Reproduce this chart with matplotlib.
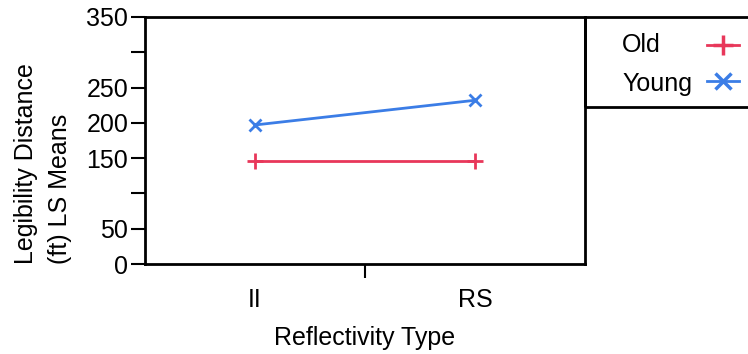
import matplotlib.pyplot as plt
from matplotlib.lines import Line2D
from matplotlib.patches import Rectangle

plt.rcParams['font.family'] = ['Liberation Sans', 'DejaVu Sans']

categories = ['II', 'RS']
old_means = [146, 146]
young_means = [197, 232]

red = '#E8375A'
blue = '#3B7DE6'

W, H = 748, 354
fs = 18
fig = plt.figure(figsize=(W / 100, H / 100), dpi=100)
ax = fig.add_axes([145 / W, 1 - 264 / H, 440 / W, 247 / H])

x = list(range(len(categories)))
ax.plot(x, old_means, color=red, lw=2, marker='+', ms=11, mew=2)
ax.plot(x, young_means, color=blue, lw=2, marker='x', ms=9, mew=2)

ax.set_xlim(-0.5, 1.5)
ax.set_ylim(0, 350)
ax.set_yticks([0, 50, 100, 150, 200, 250, 300, 350])
ax.set_yticklabels(['0', '50', '', '150', '200', '250', '', '350'])
ax.set_xticks([0.5])
ax.set_xticklabels([''])
ax.tick_params(axis='y', length=10, width=1.5, labelsize=fs, pad=2)
ax.tick_params(axis='x', length=10, width=1.5)
for s in ax.spines.values():
    s.set_linewidth(2)

for xi, lab in zip(x, categories):
    ax.text(xi, -0.145, lab, transform=ax.get_xaxis_transform(),
            ha='center', va='center', fontsize=fs)

ax.set_xlabel('Reflectivity Type', fontsize=fs, labelpad=31)
fig.text(43 / W, 1 - 264 / H, 'Legibility Distance\n(ft) LS Means',
         rotation=90, ha='center', va='bottom', multialignment='left',
         fontsize=fs, linespacing=1.5)

# legend box sticking out past the right edge
fig.add_artist(Rectangle((585 / W, 1 - 107 / H), 200 / W, 90 / H,
                         transform=fig.transFigure, fill=False,
                         lw=2, ec='black', clip_on=False))
fig.text(622 / W, 1 - 45 / H, 'Old', fontsize=fs, va='center')
fig.text(622 / W, 1 - 84 / H, 'Young', fontsize=fs, va='center')
fig.add_artist(Line2D([707 / W, 739 / W], [1 - 45 / H, 1 - 45 / H],
                      transform=fig.transFigure, color=red, lw=2))
fig.add_artist(Line2D([723 / W], [1 - 45 / H], transform=fig.transFigure,
                      color=red, marker='+', ms=15, mew=2.5, ls='none'))
fig.add_artist(Line2D([707 / W, 739 / W], [1 - 81 / H, 1 - 81 / H],
                      transform=fig.transFigure, color=blue, lw=2))
fig.add_artist(Line2D([723 / W], [1 - 81 / H], transform=fig.transFigure,
                      color=blue, marker='x', ms=11, mew=2.5, ls='none'))

fig.savefig('out.png', dpi=100)
